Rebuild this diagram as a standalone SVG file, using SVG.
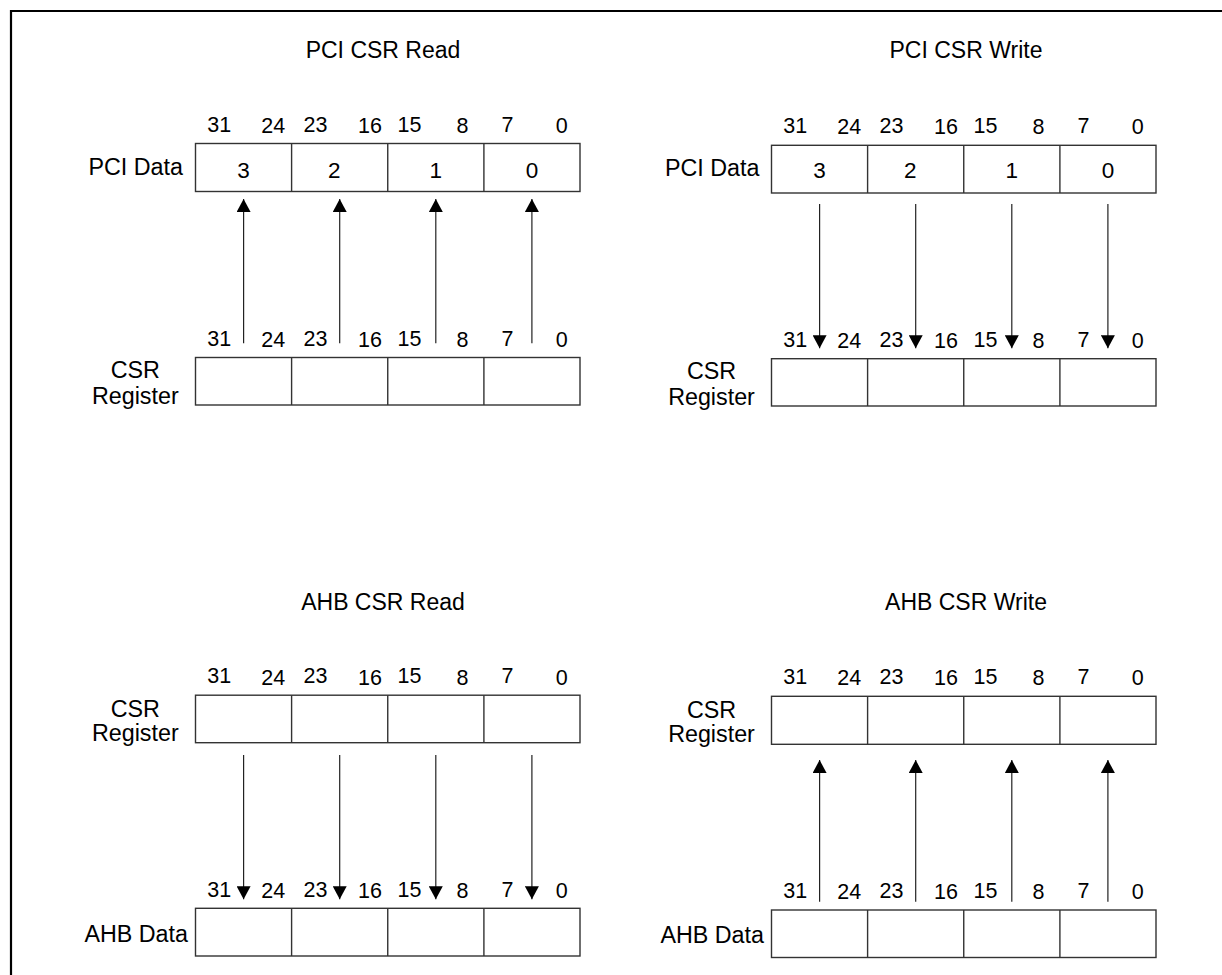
<svg xmlns="http://www.w3.org/2000/svg" width="1222" height="975" viewBox="0 0 1222 975">
<style>
text{font-family:"Liberation Sans",Arial,sans-serif;fill:#000}
.title{font-size:23px;text-anchor:middle}
.lbl{font-size:23.3px}
.end{text-anchor:end}
.mid{text-anchor:middle}
.bit{font-size:21.5px;text-anchor:middle}
.dig{font-size:22.5px;text-anchor:middle}
.box{fill:#fff;stroke:#333;stroke-width:1.4}
.div{stroke:#333;stroke-width:1.4}
.arr{stroke:#222;stroke-width:1.2;fill:none;marker-end:url(#ah)}
.frame{stroke:#000;stroke-width:2.2;fill:none}
</style>
<defs>
<marker id="ah" markerUnits="userSpaceOnUse" markerWidth="14" markerHeight="14" refX="13" refY="7" orient="auto">
<path d="M0,0 L13,7 L0,14 z" fill="#000"/>
</marker>
</defs>
<rect width="1222" height="975" fill="#fff"/>
<path class="frame" d="M11,975 V11 H1222"/>

<text class="title" x="383" y="58.3">PCI CSR Read</text>
<text class="title" x="966" y="58.3">PCI CSR Write</text>
<text class="title" x="383" y="610">AHB CSR Read</text>
<text class="title" x="966" y="610">AHB CSR Write</text>

<!-- Q1 PCI CSR Read -->
<g id="q1-pci-data">
<text class="lbl end" x="183" y="175">PCI Data</text>
<g class="bit">
<text x="219.3" y="131.7">31</text><text x="273.2" y="133">24</text>
<text x="315.4" y="131.7">23</text><text x="370" y="133">16</text>
<text x="409.5" y="131.7">15</text><text x="462.5" y="133">8</text>
<text x="507.5" y="131.7">7</text><text x="561.8" y="133">0</text>
</g>
<rect class="box" x="195.5" y="143.5" width="384.5" height="48"/>
<path class="div" d="M291.6,143.5 V191.5 M387.75,143.5 V191.5 M483.9,143.5 V191.5"/>
<g class="dig">
<text x="243.6" y="177.7">3</text><text x="334.2" y="177.7">2</text>
<text x="435.8" y="177.7">1</text><text x="531.9" y="177.7">0</text>
</g>
</g>
<g id="q1-csr-register">
<text class="lbl mid" x="135.3" y="377.5">CSR</text>
<text class="lbl mid" x="135.3" y="403.5">Register</text>
<g class="bit">
<text x="219.3" y="346">31</text><text x="273.2" y="347">24</text>
<text x="315.4" y="346">23</text><text x="370" y="347">16</text>
<text x="409.5" y="346">15</text><text x="462.5" y="347">8</text>
<text x="507.5" y="346">7</text><text x="561.8" y="347">0</text>
</g>
<rect class="box" x="195.5" y="357.5" width="384.5" height="47.5"/>
<path class="div" d="M291.6,357.5 V405 M387.75,357.5 V405 M483.9,357.5 V405"/>
</g>

<!-- Q2 PCI CSR Write -->
<g id="q2-pci-data">
<text class="lbl end" x="759.5" y="176">PCI Data</text>
<g class="bit">
<text x="795.3" y="132.5">31</text><text x="849.2" y="134">24</text>
<text x="891.4" y="132.5">23</text><text x="946" y="134">16</text>
<text x="985.5" y="132.5">15</text><text x="1038.5" y="134">8</text>
<text x="1083.5" y="132.5">7</text><text x="1137.8" y="134">0</text>
</g>
<rect class="box" x="771.5" y="145.3" width="384.5" height="47.7"/>
<path class="div" d="M867.6,145.3 V193 M963.75,145.3 V193 M1059.9,145.3 V193"/>
<g class="dig">
<text x="819.6" y="178.3">3</text><text x="910.2" y="178.3">2</text>
<text x="1011.8" y="178.3">1</text><text x="1107.9" y="178.3">0</text>
</g>
</g>
<g id="q2-csr-register">
<text class="lbl mid" x="711.5" y="378.5">CSR</text>
<text class="lbl mid" x="711.5" y="404.5">Register</text>
<g class="bit">
<text x="795.3" y="346.7">31</text><text x="849.2" y="347.7">24</text>
<text x="891.4" y="346.7">23</text><text x="946" y="347.7">16</text>
<text x="985.5" y="346.7">15</text><text x="1038.5" y="347.7">8</text>
<text x="1083.5" y="346.7">7</text><text x="1137.8" y="347.7">0</text>
</g>
<rect class="box" x="771.5" y="358.7" width="384.5" height="47.3"/>
<path class="div" d="M867.6,358.7 V406 M963.75,358.7 V406 M1059.9,358.7 V406"/>
</g>

<!-- Q3 AHB CSR Read -->
<g id="q3-csr-register">
<text class="lbl mid" x="135.3" y="716.5">CSR</text>
<text class="lbl mid" x="135.3" y="741">Register</text>
<g class="bit">
<text x="219.3" y="683.3">31</text><text x="273.2" y="684.5">24</text>
<text x="315.4" y="683.3">23</text><text x="370" y="684.5">16</text>
<text x="409.5" y="683.3">15</text><text x="462.5" y="684.5">8</text>
<text x="507.5" y="683.3">7</text><text x="561.8" y="684.5">0</text>
</g>
<rect class="box" x="195.5" y="695.2" width="384.5" height="47.5"/>
<path class="div" d="M291.6,695.2 V742.7 M387.75,695.2 V742.7 M483.9,695.2 V742.7"/>
</g>
<g id="q3-ahb-data">
<text class="lbl end" x="188" y="941.7">AHB Data</text>
<g class="bit">
<text x="219.3" y="896.7">31</text><text x="273.2" y="897.7">24</text>
<text x="315.4" y="896.7">23</text><text x="370" y="897.7">16</text>
<text x="409.5" y="896.7">15</text><text x="462.5" y="897.7">8</text>
<text x="507.5" y="896.7">7</text><text x="561.8" y="897.7">0</text>
</g>
<rect class="box" x="195.5" y="908.3" width="384.5" height="47.7"/>
<path class="div" d="M291.6,908.3 V956 M387.75,908.3 V956 M483.9,908.3 V956"/>
</g>

<!-- Q4 AHB CSR Write -->
<g id="q4-csr-register">
<text class="lbl mid" x="711.5" y="717.5">CSR</text>
<text class="lbl mid" x="711.5" y="742">Register</text>
<g class="bit">
<text x="795.3" y="684">31</text><text x="849.2" y="685.2">24</text>
<text x="891.4" y="684">23</text><text x="946" y="685.2">16</text>
<text x="985.5" y="684">15</text><text x="1038.5" y="685.2">8</text>
<text x="1083.5" y="684">7</text><text x="1137.8" y="685.2">0</text>
</g>
<rect class="box" x="771.5" y="696.3" width="384.5" height="48"/>
<path class="div" d="M867.6,696.3 V744.3 M963.75,696.3 V744.3 M1059.9,696.3 V744.3"/>
</g>
<g id="q4-ahb-data">
<text class="lbl end" x="764" y="942.5">AHB Data</text>
<g class="bit">
<text x="795.3" y="898">31</text><text x="849.2" y="899">24</text>
<text x="891.4" y="898">23</text><text x="946" y="899">16</text>
<text x="985.5" y="898">15</text><text x="1038.5" y="899">8</text>
<text x="1083.5" y="898">7</text><text x="1137.8" y="899">0</text>
</g>
<rect class="box" x="771.5" y="910" width="384.5" height="47.5"/>
<path class="div" d="M867.6,910 V957.5 M963.75,910 V957.5 M1059.9,910 V957.5"/>
</g>

<g id="connectors">
<line class="arr" x1="243.6" y1="343.3" x2="243.6" y2="199"/>
<line class="arr" x1="339.7" y1="343.3" x2="339.7" y2="199"/>
<line class="arr" x1="435.8" y1="343.3" x2="435.8" y2="199"/>
<line class="arr" x1="531.9" y1="343.3" x2="531.9" y2="199"/>

<line class="arr" x1="819.6" y1="204" x2="819.6" y2="348.3"/>
<line class="arr" x1="915.7" y1="204" x2="915.7" y2="348.3"/>
<line class="arr" x1="1011.8" y1="204" x2="1011.8" y2="348.3"/>
<line class="arr" x1="1107.9" y1="204" x2="1107.9" y2="348.3"/>

<line class="arr" x1="243.6" y1="755" x2="243.6" y2="899.3"/>
<line class="arr" x1="339.7" y1="755" x2="339.7" y2="899.3"/>
<line class="arr" x1="435.8" y1="755" x2="435.8" y2="899.3"/>
<line class="arr" x1="531.9" y1="755" x2="531.9" y2="899.3"/>

<line class="arr" x1="819.6" y1="901.7" x2="819.6" y2="760"/>
<line class="arr" x1="915.7" y1="901.7" x2="915.7" y2="760"/>
<line class="arr" x1="1011.8" y1="901.7" x2="1011.8" y2="760"/>
<line class="arr" x1="1107.9" y1="901.7" x2="1107.9" y2="760"/>
</g>
</svg>
